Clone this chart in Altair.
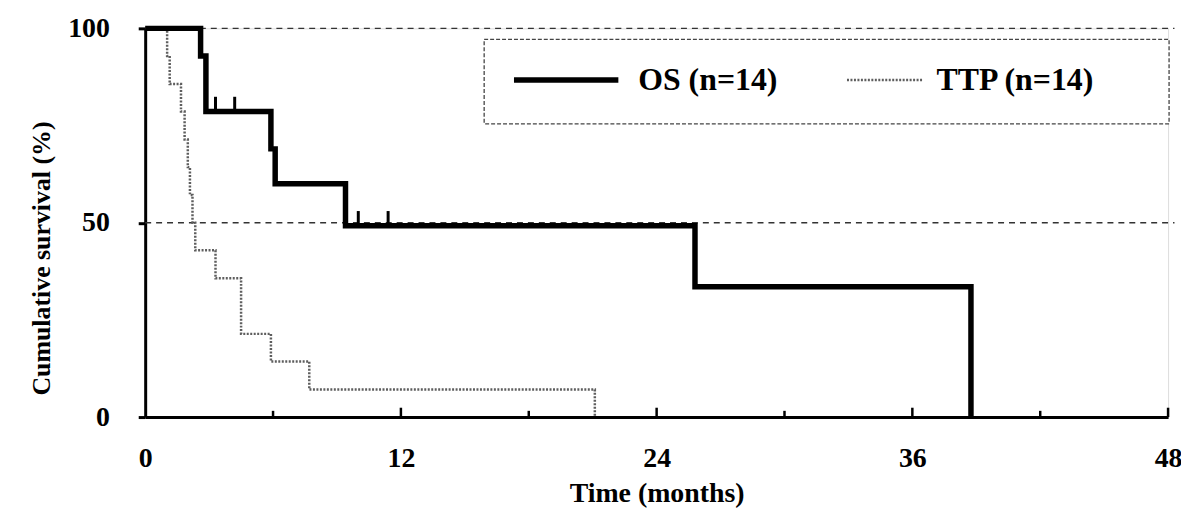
import altair as alt
import pandas as pd

# ---- data ----
os_time = [0, 2.6, 2.85, 5.9, 6.1, 9.4, 25.8, 38.75]
os_surv = [100, 92.9, 78.6, 69.0, 60.0, 49.2, 33.5, 0]

ttp_time = [0, 1.03, 1.15, 1.68, 1.85, 2.0, 2.1, 2.22, 2.35, 3.3, 4.5, 5.9, 7.7, 21.1]
ttp_surv = [100, 92.9, 85.7, 78.6, 71.4, 64.3, 57.1, 50.0, 42.9, 35.7, 21.4, 14.3, 7.1, 0]

os_censor_time = [3.3, 4.2, 10.0, 11.4]
os_censor_surv = [78.6, 78.6, 49.2, 49.2]

ref_levels = [100, 50]
x_major = [0, 12, 24, 36, 48]
x_minor = [6, 18, 30, 42]
y_ticks = [0, 50, 100]
series = ["OS (n=14)", "TTP (n=14)"]

FONT = "Liberation Serif"
W, H = 1029, 391

xs = alt.Scale(domain=[0, 48], nice=False, zero=True)
ys = alt.Scale(domain=[0, 100], nice=False)

os_df = pd.DataFrame({"t": os_time, "s": os_surv})
ttp_df = pd.DataFrame({"t": ttp_time, "s": ttp_surv})
cen_df = pd.DataFrame({"t": os_censor_time, "s": os_censor_surv})
cen_df["s2"] = cen_df["s"] + 3.8
ref_df = pd.DataFrame({"v": ref_levels, "x0": 0, "x1": 48.3})
tick_df = pd.DataFrame({"t": x_major[1:] + x_minor,
                        "h": [2.4] * (len(x_major) - 1) + [1.6] * len(x_minor)})
tick_df["b"] = 0

x_axis = alt.Axis(values=x_major, title="Time (months)", grid=False, ticks=False,
                  labelFont=FONT, labelFontSize=28, labelFontWeight="bold", labelColor="black",
                  labelPadding=28, domainWidth=3, domainColor="black",
                  titleFont=FONT, titleFontSize=28, titleFontWeight="bold", titleColor="black",
                  titleY=77, titleBaseline="middle", labelFlush=False)
y_axis = alt.Axis(values=y_ticks, title="Cumulative survival (%)", grid=False,
                  tickSize=7, tickWidth=3, tickColor="black",
                  labelFont=FONT, labelFontSize=28, labelFontWeight="bold", labelColor="black",
                  labelPadding=29, domainWidth=3, domainColor="black",
                  titleFont=FONT, titleFontSize=26, titleFontWeight="bold", titleColor="black",
                  titleAngle=270, titleX=-104, titleY=231, titleAlign="center",
                  titleBaseline="middle", labelFlush=False)

refs = alt.Chart(ref_df).mark_rule(color="#333", strokeWidth=1.5, strokeDash=[6, 5]).encode(
    x=alt.X("x0:Q", scale=xs, axis=x_axis), x2="x1:Q",
    y=alt.Y("v:Q", scale=ys, axis=y_axis))

ticks = alt.Chart(tick_df).mark_rule(color="black", strokeWidth=2.5).encode(
    x=alt.X("t:Q", scale=xs), y=alt.Y("b:Q", scale=ys), y2="h:Q")

ttp_line = alt.Chart(ttp_df).mark_line(interpolate="step-after", color="#5e5e5e",
                                       strokeWidth=2.5, strokeDash=[2, 1.5]).encode(
    x=alt.X("t:Q", scale=xs), y=alt.Y("s:Q", scale=ys))

os_line = alt.Chart(os_df).mark_line(interpolate="step-after", color="black",
                                     strokeWidth=5.5).encode(
    x=alt.X("t:Q", scale=xs), y=alt.Y("s:Q", scale=ys))

censor = alt.Chart(cen_df).mark_rule(color="black", strokeWidth=3).encode(
    x=alt.X("t:Q", scale=xs), y=alt.Y("s:Q", scale=ys), y2="s2:Q")

# ---- legend drawn by hand ----
leg_box = alt.Chart(pd.DataFrame({"k": [0]})).mark_rect(
    fill="white", stroke="#444", strokeWidth=1.3, strokeDash=[4, 2]).encode(
    x=alt.value(341), x2=alt.value(1030), y=alt.value(11), y2=alt.value(96))
leg_os = alt.Chart(pd.DataFrame({"k": [0]})).mark_rule(color="black", strokeWidth=5.5).encode(
    x=alt.value(371), x2=alt.value(476), y=alt.value(52))
leg_ttp = alt.Chart(pd.DataFrame({"k": [0]})).mark_rule(
    color="#5e5e5e", strokeWidth=2.5, strokeDash=[2, 1.5]).encode(
    x=alt.value(706), x2=alt.value(782), y=alt.value(52))
leg_txt = alt.Chart(pd.DataFrame({"label": series, "px": [496, 796]})).mark_text(
    font=FONT, fontSize=32, fontWeight="bold", color="black", align="left",
    baseline="middle").encode(
    text="label:N", x=alt.X("px:Q", scale=None), y=alt.value(52))

chart = alt.layer(refs, ticks, ttp_line, os_line, censor, leg_box, leg_os, leg_ttp, leg_txt).properties(
    width=W, height=H,
    autosize=alt.AutoSizeParams(type="none"),
    padding={"left": 138, "top": 19, "right": 13, "bottom": 91},
).configure_view(stroke=None).configure(background="white")

chart.save("out.html", embed_options={"renderer": "svg", "actions": False})
